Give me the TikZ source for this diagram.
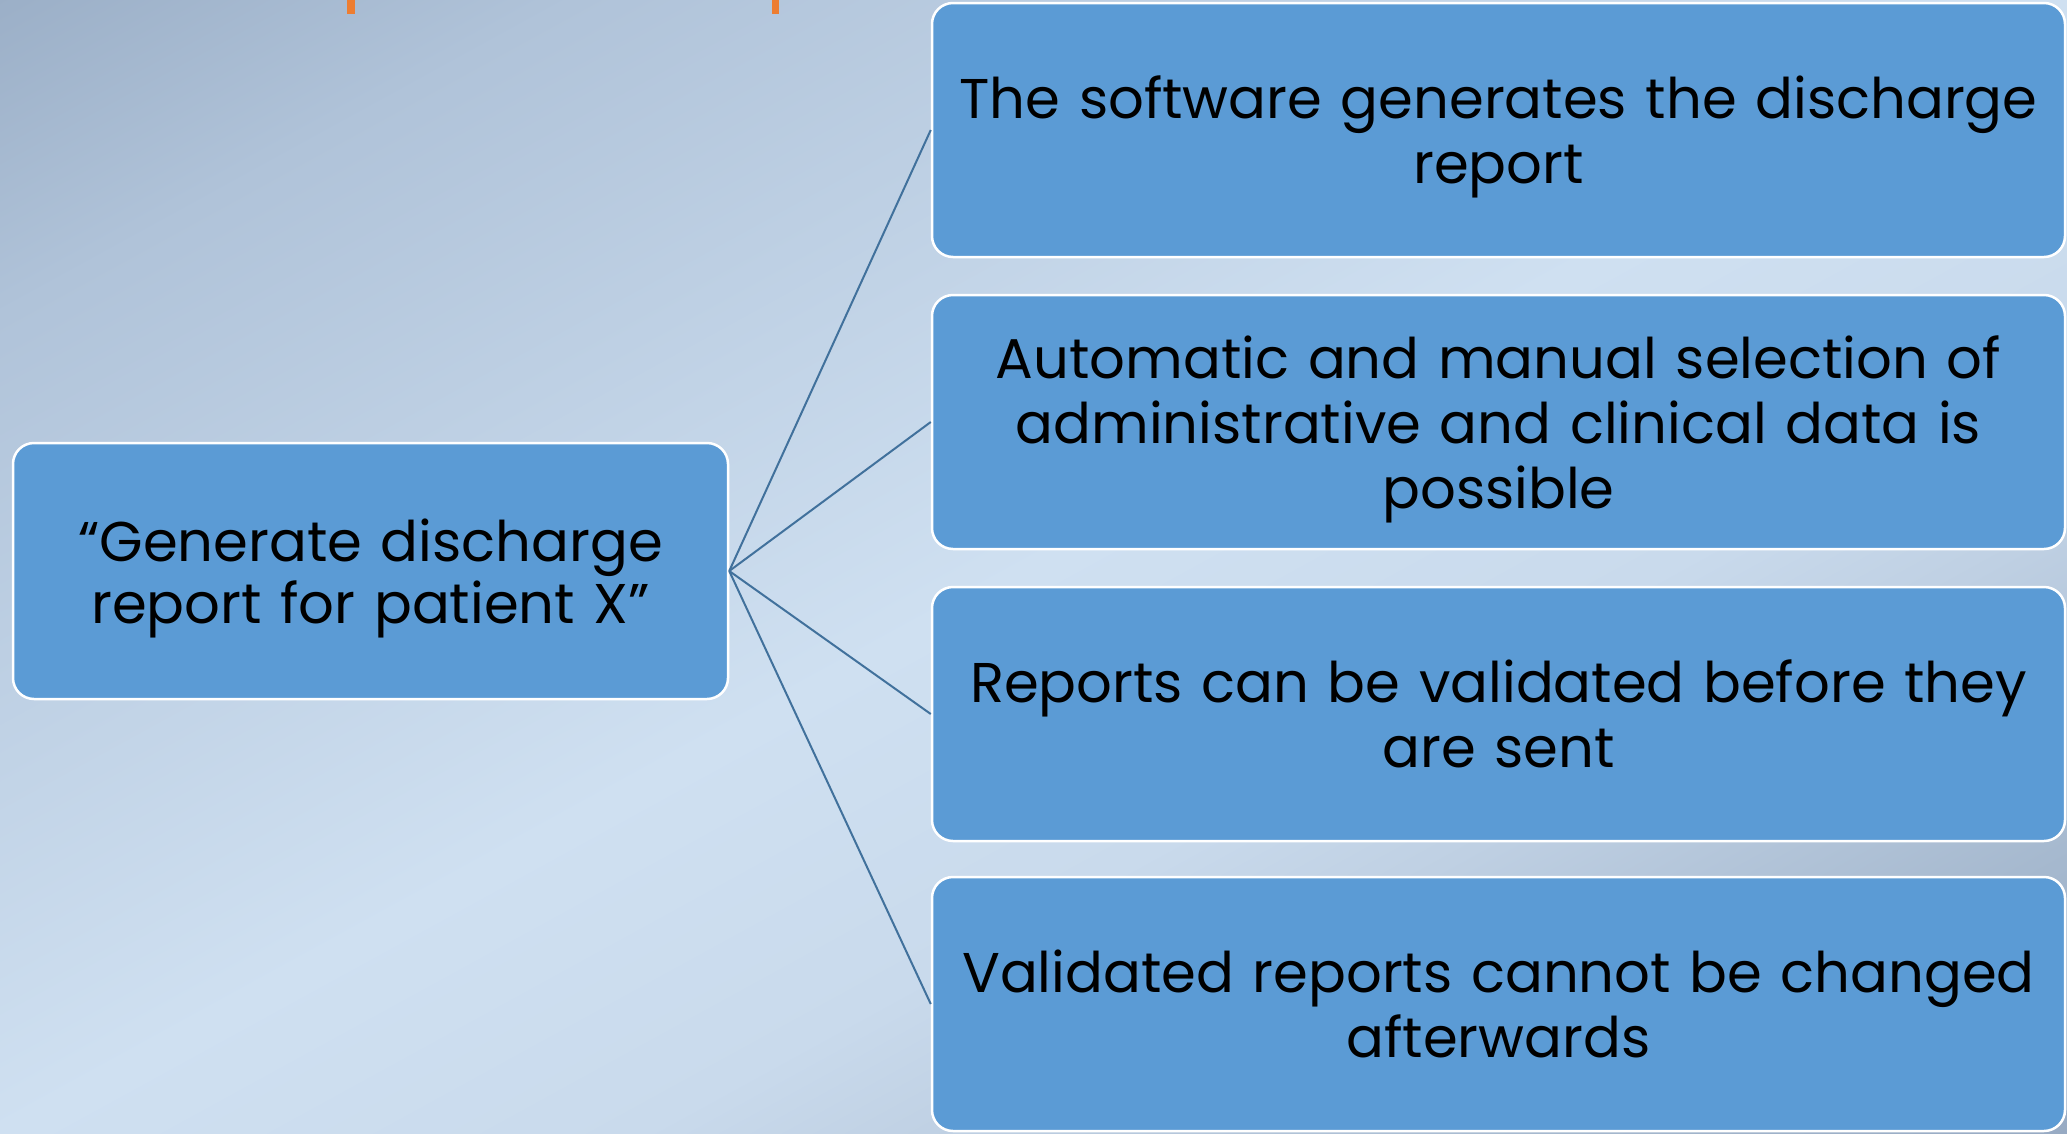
\documentclass[tikz,border=0pt]{standalone}
\usepackage{fontspec}
\setmainfont{Poppins}
\definecolor{boxblue}{HTML}{5B9BD5}
\definecolor{linkblue}{HTML}{41719C}
\definecolor{accent}{HTML}{ED7D31}
\definecolor{gA}{HTML}{9BAFC7}
\definecolor{gB}{HTML}{B0C3D9}
\definecolor{gC}{HTML}{CFE0F1}
\definecolor{gD}{HTML}{C9DAEC}
\definecolor{gE}{HTML}{BFD0E3}
\definecolor{gF}{HTML}{A5B8CE}
\definecolor{gG}{HTML}{97AAC3}
\pgfdeclarehorizontalshading{bgsh}{3000bp}{color(0bp)=(gA); color(280bp)=(gB); color(994bp)=(gC); color(1300bp)=(gD); color(1451bp)=(gE); color(1745bp)=(gF); color(1988bp)=(gG)}
\tikzset{
  item/.style={draw=white, line width=2.5pt, fill=boxblue, rounded corners=21pt,
    minimum width=1133pt, minimum height=254pt, text width=1110pt, align=center,
    inner sep=0pt, text height=56pt, text depth=79pt,
    font=\fontsize{56}{65}\selectfont, text=black},
  threeline/.style={text depth=144pt},
  topic/.style={item, minimum width=715pt, minimum height=256pt, text width=700pt,
    text depth=76pt, font=\fontsize{56}{62}\selectfont},
  link/.style={draw=linkblue, line width=2pt},
  tick/.style={fill=accent}
}
\begin{document}
\begin{tikzpicture}[x=1pt, y=-1pt]
  \useasboundingbox (0,0) rectangle (2067,1133);
  \begin{scope}
    \clip (0,0) rectangle (2067,1133);
    \pgftransformshift{\pgfpoint{1033.5pt}{-566.5pt}}
    \pgftransformrotate{-61.26}
    \pgflowlevelsynccm
    \pgfuseshading{bgsh}
  \end{scope}
  \fill[tick] (347,0) rectangle (355,14);
  \fill[tick] (772,0) rectangle (779,14);

  \node[topic] (src) at (370.5,571) {“Generate discharge\\report for patient X”};
  \node[item] (r1) at (1498.5,130) {The software generates the discharge\\report};
  \node[item, threeline] (r2) at (1498.5,422) {Automatic and manual selection of\\administrative and clinical data is\\possible};
  \node[item] (r3) at (1498.5,714) {Reports can be validated before they\\are sent};
  \node[item] (r4) at (1498.5,1004) {Validated reports cannot be changed\\afterwards};

  \draw[link] (src.east) -- (r1.west);
  \draw[link] (src.east) -- (r2.west);
  \draw[link] (src.east) -- (r3.west);
  \draw[link] (src.east) -- (r4.west);
\end{tikzpicture}
\end{document}
